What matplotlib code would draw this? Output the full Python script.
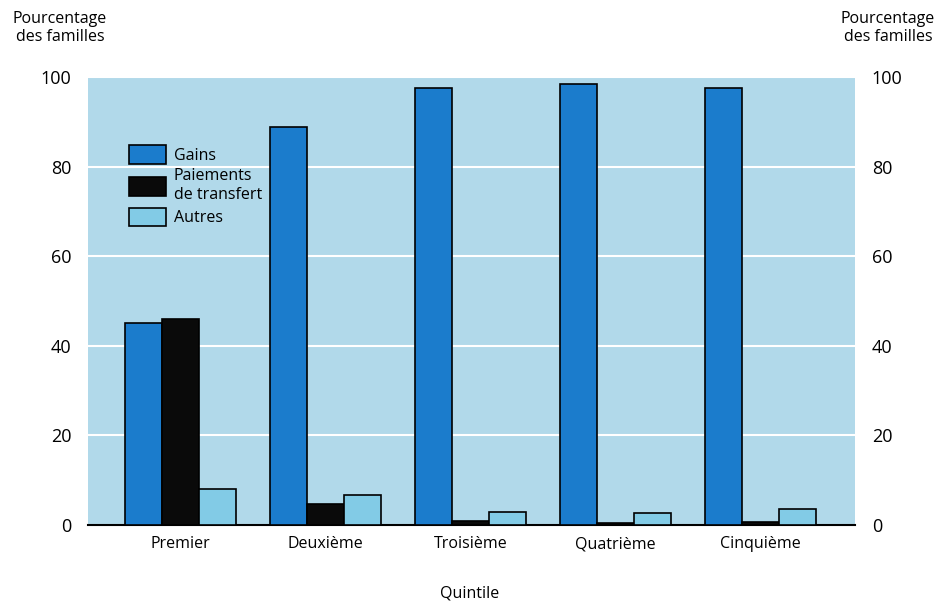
import matplotlib.pyplot as plt
import numpy as np

quintiles = ["Premier", "Deuxième", "Troisième", "Quatrième", "Cinquième"]
gains = [45.2, 88.8, 97.6, 98.4, 97.6]
transferts = [46.0, 4.6, 0.9, 0.5, 0.7]
autres = [8.0, 6.6, 2.9, 2.7, 3.5]
series_names = ["Gains", "Paiements\nde transfert", "Autres"]
yticks = [0, 20, 40, 60, 80, 100]

c_gains = "#1b7ccc"
c_transf = "#0a0a0a"
c_autres = "#82cbe6"
c_bg = "#b1d9ea"

plt.rcParams["font.family"] = ["Open Sans", "DejaVu Sans"]

fig = plt.figure(figsize=(9.45, 6.05), dpi=100)
ax = fig.add_axes([88 / 945, 1 - 525 / 605, 767 / 945, 448 / 605])
ax.set_facecolor(c_bg)

x = np.arange(len(quintiles))
w = 0.255
ax.bar(x - w, gains, w, color=c_gains, edgecolor="black", linewidth=1.2, label=series_names[0], zorder=3)
ax.bar(x, transferts, w, color=c_transf, edgecolor="black", linewidth=1.2, label=series_names[1], zorder=3)
ax.bar(x + w, autres, w, color=c_autres, edgecolor="black", linewidth=1.2, label=series_names[2], zorder=3)

ax.set_xlim(-0.64, 4.65)
ax.set_ylim(0, 98.7)
ax.set_yticks(yticks)
ax.set_xticks(x)
ax.set_xticklabels(quintiles, fontsize=11.5)
ax.grid(axis="y", color="white", linewidth=1.5, zorder=1)
ax.set_axisbelow(True)
for s in ["top", "left", "right"]:
    ax.spines[s].set_visible(False)
ax.spines["bottom"].set_linewidth(1.5)
ax.tick_params(axis="x", length=0, pad=8)
ax.tick_params(axis="y", length=0, labelsize=13, pad=12)

ax2 = ax.twinx()
ax2.set_ylim(ax.get_ylim())
ax2.set_yticks(yticks)
ax2.tick_params(axis="y", length=0, labelsize=13, pad=12)
for s in ["top", "left", "right", "bottom"]:
    ax2.spines[s].set_visible(False)

fig.text(60 / 945, 1 - 28 / 605, "Pourcentage\ndes familles", ha="center", va="center", fontsize=11.5, linespacing=1.2)
fig.text(888 / 945, 1 - 28 / 605, "Pourcentage\ndes familles", ha="center", va="center", fontsize=11.5, linespacing=1.2)
fig.text(470 / 945, 1 - 593 / 605, "Quintile", ha="center", va="center", fontsize=11.5)

leg = ax.legend(loc="upper left", bbox_to_anchor=(0.035, 0.88), frameon=False, fontsize=11.5,
                handlelength=2.3, handleheight=1.4, labelspacing=0.3, handletextpad=0.5)
for h in leg.legend_handles:
    h.set_edgecolor("black")

fig.savefig("out.png", dpi=100)
